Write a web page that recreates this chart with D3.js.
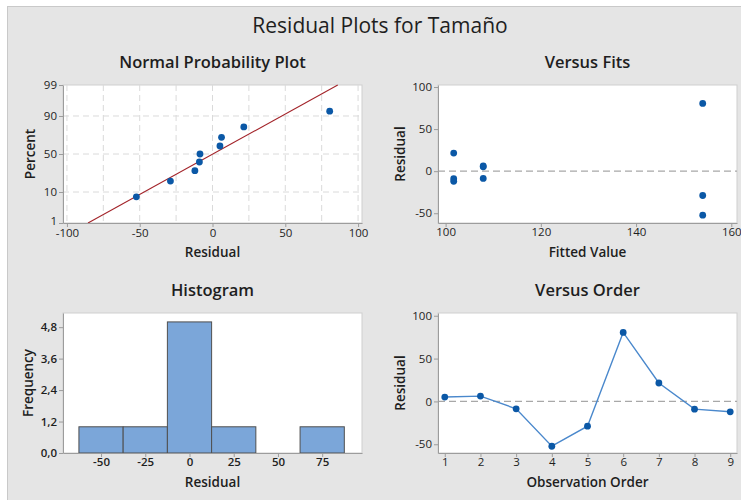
<!DOCTYPE html>
<html>
<head>
<meta charset="utf-8">
<script src="https://cdn.jsdelivr.net/npm/d3@7"></script>
<style>
  body { margin: 0; background: #fff; }
  svg { display: block; }
  text { font-family: "Open Sans", "Noto Sans", sans-serif; fill: #1e1e1e; }
</style>
</head>
<body>
<svg id="chart" width="741" height="500"></svg>
<script>
// Residuals of the one-way model for Tamaño, in observation order
const observation = [1, 2, 3, 4, 5, 6, 7, 8, 9];
const residuals = [5.1, 6.2, -8.6, -52.3, -28.9, 80.5, 21.5, -9.0, -12.1];
const fitted = [107.9, 107.9, 107.9, 154.0, 154.0, 154.0, 101.7, 101.7, 101.7];

// Histogram bins (midpoints, width 25) and counts
const histMid = [-50, -25, 0, 25, 50, 75];
const histCount = [1, 1, 5, 1, 0, 1];

// Tick values
const percentTicks = [1, 10, 50, 90, 99];
const nppXTicks = [-100, -50, 0, 50, 100];
const nppGrid = [-100, -75, -50, -25, 0, 25, 50, 75, 100];
const fitTicks = [100, 120, 140, 160];
const residTicks = [-50, 0, 50, 100];
const freqTicks = [0, 1.2, 2.4, 3.6, 4.8];

const svg = d3.select("#chart");
const comma = d3.formatLocale({ decimal: ",", thousands: ".", grouping: [3], currency: ["", ""], minus: "-" }).format(".1f");
const plain = d => String(d);

// page background and frame
svg.append("rect").attr("x", 7.5).attr("y", 6.5).attr("width", 740).attr("height", 500)
  .attr("fill", "#e5e5e5").attr("stroke", "#c9c9c9");

svg.append("text").attr("x", 380).attr("y", 33).attr("text-anchor", "middle")
  .attr("font-size", 21).attr("font-weight", 500).text("Residual Plots for Tamaño");

// panel boxes
const colL = [63, 362], colR = [438, 737];
const rowT = [85, 223], rowB = [313, 453];

function panel(cols, rows, title) {
  const g = svg.append("g");
  g.append("rect").attr("x", cols[0]).attr("y", rows[0])
    .attr("width", cols[1] - cols[0]).attr("height", rows[1] - rows[0])
    .attr("fill", "#fff").attr("stroke", "#cfcfcf");
  g.append("text").attr("x", (cols[0] + cols[1]) / 2).attr("y", rows[0] - 17)
    .attr("text-anchor", "middle").attr("font-size", 16.5).attr("font-weight", 600).text(title);
  return g;
}

function styleAxis(sel) {
  sel.selectAll("path.domain").attr("stroke", "#9c9c9c");
  sel.selectAll(".tick line").attr("stroke", "#9c9c9c");
  sel.selectAll(".tick text").attr("font-size", 11.5).attr("fill", "#222")
    .attr("font-family", '"Open Sans", sans-serif');
}

function axisTitles(g, cols, rows, xt, yt, yx) {
  g.append("text").attr("x", (cols[0] + cols[1]) / 2).attr("y", rows[1] + 34)
    .attr("text-anchor", "middle").attr("font-size", 13.5).attr("font-weight", 600).text(xt);
  g.append("text").attr("transform", `translate(${yx},${(rows[0] + rows[1]) / 2}) rotate(-90)`)
    .attr("text-anchor", "middle").attr("font-size", 13.5).attr("font-weight", 600).text(yt);
}

// inverse standard normal CDF (Acklam)
function probit(p) {
  const a = [-39.69683028665376, 220.9460984245205, -275.9285104469687, 138.3577518672690, -30.66479806614716, 2.506628277459239];
  const b = [-54.47609879822406, 161.5858368580409, -155.6989798598866, 66.80131188771972, -13.28068155288572];
  const c = [-0.007784894002430293, -0.3223964580411365, -2.400758277161838, -2.549732539343734, 4.374664141464968, 2.938163982698783];
  const d = [0.007784695709041462, 0.3224671290700398, 2.445134137142996, 3.754408661907416];
  const pl = 0.02425;
  let q, r;
  if (p < pl) {
    q = Math.sqrt(-2 * Math.log(p));
    return (((((c[0]*q+c[1])*q+c[2])*q+c[3])*q+c[4])*q+c[5]) / ((((d[0]*q+d[1])*q+d[2])*q+d[3])*q+1);
  }
  if (p > 1 - pl) {
    q = Math.sqrt(-2 * Math.log(1 - p));
    return -(((((c[0]*q+c[1])*q+c[2])*q+c[3])*q+c[4])*q+c[5]) / ((((d[0]*q+d[1])*q+d[2])*q+d[3])*q+1);
  }
  q = p - 0.5; r = q * q;
  return (((((a[0]*r+a[1])*r+a[2])*r+a[3])*r+a[4])*r+a[5])*q / (((((b[0]*r+b[1])*r+b[2])*r+b[3])*r+b[4])*r+1);
}

const dotColor = "#0b58a6";

// ---- Normal Probability Plot ----
{
  const g = panel(colL, rowT, "Normal Probability Plot");
  const x = d3.scaleLinear().domain([-102.7, 102.7]).range(colL);
  const y = d3.scaleLinear().domain([probit(0.01), probit(0.99)]).range([rowT[1], rowT[0]]);

  const grid = g.append("g").attr("stroke", "#dadada").attr("stroke-dasharray", "6,4");
  grid.selectAll("line.v").data(nppGrid).join("line")
    .attr("x1", d => x(d)).attr("x2", d => x(d)).attr("y1", rowT[0]).attr("y2", rowT[1]);
  grid.selectAll("line.h").data([10, 50, 90]).join("line").attr("class", "h")
    .attr("x1", colL[0]).attr("x2", colL[1])
    .attr("y1", d => y(probit(d / 100))).attr("y2", d => y(probit(d / 100)));

  // fitted normal line from the residuals' mean and standard deviation
  const mu = d3.mean(residuals), sd = d3.deviation(residuals);
  const lineP = [0.01, 0.99];
  g.append("line")
    .attr("x1", x(mu + sd * probit(lineP[0]))).attr("y1", y(probit(lineP[0])))
    .attr("x2", x(mu + sd * probit(lineP[1]))).attr("y2", y(probit(lineP[1])))
    .attr("stroke", "#a3242a").attr("stroke-width", 1.1);

  // median-rank plotting positions
  const sorted = residuals.slice().sort(d3.ascending);
  const n = sorted.length;
  g.selectAll("circle").data(sorted).join("circle")
    .attr("cx", d => x(d)).attr("cy", (d, i) => y(probit((i + 1 - 0.3) / (n + 0.4))))
    .attr("r", 3.4).attr("fill", dotColor);

  const ax = g.append("g").attr("transform", `translate(0,${rowT[1]})`)
    .call(d3.axisBottom(x).tickValues(nppXTicks).tickFormat(plain).tickSize(4).tickSizeOuter(0).tickPadding(2));
  const ay = g.append("g").attr("transform", `translate(${colL[0]},0)`)
    .call(d3.axisLeft(y).tickValues(percentTicks.map(p => probit(p / 100)))
      .tickFormat((d, i) => percentTicks[i]).tickSize(4).tickSizeOuter(0).tickPadding(2));
  styleAxis(ax); styleAxis(ay);
  ay.selectAll(".tick text").filter((d, i) => i === 0).attr("dy", "0.1em");
  axisTitles(g, colL, rowT, "Residual", "Percent", 35);
}

// ---- Versus Fits ----
{
  const g = panel(colR, rowT, "Versus Fits");
  const x = d3.scaleLinear().domain([98.4, 161.2]).range(colR);
  const y = d3.scaleLinear().domain([-61.6, 102.4]).range([rowT[1], rowT[0]]);
  g.append("line").attr("x1", colR[0]).attr("x2", colR[1]).attr("y1", y(0)).attr("y2", y(0))
    .attr("stroke", "#a8a8a8").attr("stroke-width", 1.2).attr("stroke-dasharray", "7,4");
  g.selectAll("circle").data(residuals).join("circle")
    .attr("cx", (d, i) => x(fitted[i])).attr("cy", d => y(d)).attr("r", 3.4).attr("fill", dotColor);
  const ax = g.append("g").attr("transform", `translate(0,${rowT[1]})`)
    .call(d3.axisBottom(x).tickValues(fitTicks).tickFormat(plain).tickSize(4).tickSizeOuter(0).tickPadding(1));
  const ay = g.append("g").attr("transform", `translate(${colR[0]},0)`)
    .call(d3.axisLeft(y).tickValues(residTicks).tickFormat(plain).tickSize(4).tickSizeOuter(0).tickPadding(2));
  styleAxis(ax); styleAxis(ay);
  axisTitles(g, colR, rowT, "Fitted Value", "Residual", 405);
}

// ---- Histogram ----
{
  const g = panel(colL, rowB, "Histogram");
  const x = d3.scaleLinear().domain([-71.5, 97.5]).range(colL);
  const y = d3.scaleLinear().domain([0, 5.34]).range([rowB[1], rowB[0]]);
  const half = 12.5;
  g.selectAll("rect.bar").data(histMid).join("rect").attr("class", "bar")
    .attr("x", d => x(d - half)).attr("width", d => x(d + half) - x(d - half))
    .attr("y", (d, i) => y(histCount[i])).attr("height", (d, i) => y(0) - y(histCount[i]))
    .attr("fill", "#7ba6d9").attr("stroke", "#4f4f4f").attr("stroke-width", 1);
  const ax = g.append("g").attr("transform", `translate(0,${rowB[1]})`)
    .call(d3.axisBottom(x).tickValues(histMid).tickFormat(plain).tickSize(4).tickSizeOuter(0).tickPadding(1));
  const ay = g.append("g").attr("transform", `translate(${colL[0]},0)`)
    .call(d3.axisLeft(y).tickValues(freqTicks).tickFormat(comma).tickSize(4).tickSizeOuter(0).tickPadding(2));
  styleAxis(ax); styleAxis(ay);
  ax.selectAll(".tick text").attr("font-weight", 600);
  ay.selectAll(".tick text").attr("font-weight", 600);
  axisTitles(g, colL, rowB, "Residual", "Frequency", 33);
}

// ---- Versus Order ----
{
  const g = panel(colR, rowB, "Versus Order");
  const x = d3.scaleLinear().domain([0.81, 9.19]).range(colR);
  const y = d3.scaleLinear().domain([-60.2, 103.2]).range([rowB[1], rowB[0]]);
  g.append("line").attr("x1", colR[0]).attr("x2", colR[1]).attr("y1", y(0)).attr("y2", y(0))
    .attr("stroke", "#a8a8a8").attr("stroke-width", 1.2).attr("stroke-dasharray", "7,4");
  const line = d3.line().x((d, i) => x(observation[i])).y(d => y(d));
  g.append("path").datum(residuals).attr("d", line)
    .attr("fill", "none").attr("stroke", "#4a88cc").attr("stroke-width", 1.4);
  g.selectAll("circle").data(residuals).join("circle")
    .attr("cx", (d, i) => x(observation[i])).attr("cy", d => y(d)).attr("r", 3.4).attr("fill", dotColor);
  const ax = g.append("g").attr("transform", `translate(0,${rowB[1]})`)
    .call(d3.axisBottom(x).tickValues(observation).tickFormat(plain).tickSize(4).tickSizeOuter(0).tickPadding(1));
  const ay = g.append("g").attr("transform", `translate(${colR[0]},0)`)
    .call(d3.axisLeft(y).tickValues(residTicks).tickFormat(plain).tickSize(4).tickSizeOuter(0).tickPadding(2));
  styleAxis(ax); styleAxis(ay);
  axisTitles(g, colR, rowB, "Observation Order", "Residual", 405);
}
</script>
</body>
</html>
